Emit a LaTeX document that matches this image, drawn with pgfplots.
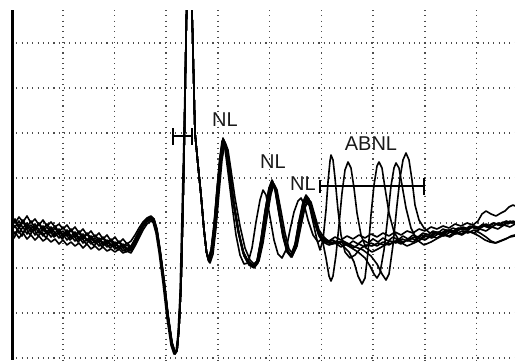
\documentclass[border=0pt]{standalone}
\usepackage{pgfplots}
\pgfplotsset{compat=1.18}
\usepackage{fontspec}
\setmainfont{Liberation Sans}
\begin{document}
\begin{tikzpicture}
\begin{axis}[
  scale only axis, width=504pt, height=350pt,
  xmin=11, xmax=515, ymin=10, ymax=360, y dir=reverse,
  axis line style={draw=none}, tick style={draw=none},
  xtick={63,114.5,166,218,269.5,321.5,373,425,476.5},
  ytick={43,88,133,178,223,268,313,358},
  xticklabels={}, yticklabels={},
  grid=major,
  major grid style={black!70, line width=1.1pt, dash pattern=on 1.1pt off 4.2pt},
  no markers,
  every axis plot post/.append style={black, line width=1.6pt, line join=round, mark=none, solid},
]
% trace 1 (normal)
\addplot coordinates {(11,226)(15,221)(19,228)(23,222)(27,229)(31,225)(35,230)(39,224)(43,231)(47,227)(51,233)(55,228)(59,234)(63,231)(67,236)(71,230)(75,237)(79,233)(83,239)(87,234)(91,240)(95,238)(99,242)(103,238)(107,244)(111,241)(115,246)(119,242)(123,248)(127,245)(131,248)(135,241)(139,232)(143,225)(147,220)(151,217)(154,219)(157,230)(160,250)(164,280)(168,315)(172,343)(175,353)(177,350)(179,328)(181,285)(183,205)(184.5,130)(186,40)(187.5,-30)(189.5,-50)(191,-20)(192.5,30)(195,133)(198,165)(201,195)(204,230)(206.5,252)
(208.5,260)(211,253)(214,228)(217,192)(220,158)(223,139)(226,148)(229,170)(233,200)(238,230)(243,252)(248,262)(253,266)(257,262)(261,240)(265,212)(269,188)(272,180)(275,188)(279,212)(283,235)(287,250)(291,255)(295,245)(299,222)(303,203)(306,196)(309,200)(313,215)(318,232)(323,240)
(328,242)(333,240)(338,244)(343,241)(348,245)(353,241)(358,244)(363,240)(368,243)(373,239)(378,242)(383,238)(388,241)(393,237)(398,240)(403,236)(408,239)(413,235)(418,237)(423,233)(428,235)(433,231)(438,233)(443,229)(448,231)(453,228)(458,230)(463,227)(468,229)(473,226)(478,228)(483,224)(488,226)(493,223)(498,225)(503,222)(508,224)(513,221)(515,222)};
% trace 2 (ABNL peak 348)
\addplot coordinates {(11,232)(14,238)(18,230)(22,236)(26,228)(30,235)(34,229)(38,236)(42,232)(46,238)(50,231)(54,237)(58,233)(62,239)(66,234)(70,240)(74,236)(78,242)(82,238)(86,244)(90,240)(94,246)(98,241)(102,247)(106,243)(110,248)(114,245)(118,250)(122,246)(126,252)(130,250)(134,243)(138,236)(142,228)(146,222)(150,219)(153,222)(156,233)(159,252)(163,283)(167,318)(171,345)(174,354)(176,352)(178,334)(180,295)(182,215)(184,135)(186,40)(187.5,-30)(189.5,-50)(191,-20)(192.5,30)(195,133)(198,165)(201,195)(204,230)(206.5,252)
(209,262)(212,250)(215,222)(218,188)(221,157)(224,141)(227,150)(230,172)(234,203)(239,233)(244,254)(249,264)(254,267)(258,262)(262,243)(266,216)(270,192)(273,183)(276,190)(280,214)(284,236)(288,251)(292,256)(296,246)(300,224)(304,205)(307,198)(310,203)(314,218)(319,234)(323,243)
(326,258)(329,276)(331,281)(333,276)(336,255)(339,225)(342,193)(345,170)(348,162)(351,168)(354,188)(357,213)(361,235)(366,248)(372,252)(378,249)(385,245)(392,243)(398,240)(404,242)(410,238)(416,240)(422,235)(428,237)(434,233)(440,234)(446,230)(452,232)(458,228)(464,230)(470,226)(476,229)(482,225)(488,227)(494,223)(500,225)(506,221)(512,223)(515,222)};
% trace 3 (normal, wiggly end)
\addplot coordinates {(11,218)(15,223)(19,217)(23,222)(27,216)(31,223)(35,219)(39,225)(43,220)(47,226)(51,222)(55,227)(59,224)(63,229)(67,225)(71,231)(75,227)(79,233)(83,229)(87,235)(91,231)(95,237)(99,233)(103,239)(107,235)(111,241)(115,237)(119,243)(123,239)(127,244)(131,241)(135,235)(139,228)(143,222)(147,218)(151,216)(154,219)(157,229)(160,249)(164,279)(168,314)(172,342)(175,352)(177,350)(179,328)(181,285)(183,205)(184.5,130)(186,40)(187.5,-30)(189.5,-50)(191,-20)(192.5,30)(195,133)(198,165)(201,195)(204,230)(206.5,252)
(208,259)(211,250)(214,224)(217,189)(220,157)(222,141)(225,149)(228,172)(232,205)(236,235)(240,255)(244,264)(248,263)(252,248)(256,222)(260,200)(263,190)(266,195)(270,217)(274,240)(278,254)(282,258)(286,250)(290,230)(294,212)(298,201)(301,198)(304,204)(308,220)(313,235)(318,242)(323,238)
(329,241)(335,237)(341,240)(347,236)(353,239)(359,235)(365,238)(371,234)(377,237)(383,233)(389,236)(395,232)(401,235)(407,231)(413,233)(419,229)(425,231)(431,227)(437,229)(443,226)(449,228)(455,224)(461,226)(467,223)(473,225)(478,221)(482,214)(486,211)(491,214)(496,216)(501,213)(505,211)(509,207)(513,205)(515,206)};
% trace 4 (ABNL peak 379)
\addplot coordinates {(11,236)(15,232)(19,238)(23,233)(27,239)(31,235)(35,240)(39,236)(43,241)(47,238)(51,242)(55,239)(59,244)(63,240)(67,245)(71,242)(75,246)(79,243)(83,248)(87,244)(91,249)(95,246)(99,250)(103,247)(107,251)(111,249)(115,252)(119,249)(123,253)(127,251)(131,253)(135,246)(139,238)(143,230)(147,224)(151,221)(154,223)(157,234)(160,253)(164,283)(168,318)(172,345)(175,354)(177,351)(179,328)(181,285)(183,205)(184.5,130)(186,40)(187.5,-30)(189.5,-50)(191,-20)(192.5,30)(195,133)(198,165)(201,195)(204,230)(206.5,252)
(210,263)(213,254)(216,228)(219,193)(222,160)(225,142)(228,150)(231,170)(235,198)(240,226)(245,248)(250,260)(255,265)(259,261)(263,243)(267,217)(271,194)(274,184)(277,190)(281,211)(285,233)(289,249)(293,254)(297,246)(301,226)(305,207)(308,199)(311,202)(315,216)(319,230)(323,236)
(330,243)(337,241)(343,246)(349,252)(354,262)(358,276)(362,284)(365,278)(368,252)(371,215)(374,185)(377,166)(379,162)(382,168)(385,188)(389,213)(394,232)(400,242)(407,246)(414,243)(420,240)(426,236)(432,238)(438,234)(444,236)(450,232)(456,234)(462,231)(468,233)(474,230)(480,233)(486,237)(491,241)(496,243)(501,241)(506,239)(511,236)(515,235)};
% trace 5 (ABNL peak 331)
\addplot coordinates {(11,222)(15,227)(19,221)(23,228)(27,223)(31,229)(35,224)(39,230)(43,226)(47,232)(51,227)(55,233)(59,229)(63,235)(67,230)(71,236)(75,232)(79,238)(83,234)(87,240)(91,236)(95,241)(99,238)(103,243)(107,240)(111,245)(115,242)(119,247)(123,244)(127,249)(131,246)(135,239)(139,231)(143,224)(147,219)(151,217)(154,220)(157,231)(160,251)(164,281)(168,316)(172,344)(175,353)(177,350)(179,328)(181,285)(183,205)(184.5,130)(186,40)(187.5,-30)(189.5,-50)(191,-20)(192.5,30)(195,133)(198,165)(201,195)(204,230)(206.5,252)
(208.5,261)(211,254)(214,229)(217,194)(220,160)(223,141)(226,150)(229,171)(233,201)(238,231)(243,253)(248,263)(253,266)(257,261)(261,239)(265,211)(269,189)(272,182)(275,190)(279,214)(283,237)(287,252)(291,257)(295,247)(299,225)(303,206)(306,199)(309,204)(313,222)(317,240)(320,250)
(323,240)(326,210)(328,182)(330,161)(331,155)(333,160)(335,178)(338,210)(341,235)(345,252)(350,258)(355,255)(360,249)(366,245)(372,246)(378,243)(384,245)(390,241)(396,243)(402,239)(408,241)(414,237)(420,239)(426,234)(432,236)(438,232)(444,234)(450,230)(456,232)(462,228)(468,230)(474,226)(480,228)(486,224)(492,227)(498,223)(504,225)(510,221)(515,223)};
% trace 6 (ABNL peak 396)
\addplot coordinates {(11,229)(15,234)(19,227)(23,233)(27,226)(31,232)(35,227)(39,233)(43,229)(47,234)(51,230)(55,236)(59,231)(63,237)(67,233)(71,238)(75,234)(79,240)(83,236)(87,241)(91,238)(95,243)(99,239)(103,245)(107,241)(111,246)(115,243)(119,248)(123,245)(127,250)(131,248)(135,241)(139,233)(143,226)(147,221)(151,218)(154,221)(157,232)(160,252)(164,282)(168,317)(172,344)(175,353)(177,350)(179,328)(181,285)(183,205)(184.5,130)(186,40)(187.5,-30)(189.5,-50)(191,-20)(192.5,30)(195,133)(198,165)(201,195)(204,230)(206.5,252)
(209,261)(212,252)(215,226)(218,191)(221,158)(223.5,140)(226.5,149)(229.5,171)(233.5,202)(238.5,232)(243.5,253)(248.5,263)(253.5,266)(257.5,261)(261.5,241)(265.5,213)(269.5,190)(272.5,181)(275.5,189)(279.5,213)(283.5,236)(287.5,251)(291.5,256)(295.5,245)(299.5,223)(303.5,204)(306.5,197)(309.5,201)(313.5,217)(318.5,234)(323,241)
(332,244)(341,242)(350,247)(358,252)(365,258)(370,266)(374,274)(377,278)(380,273)(384,250)(388,215)(391,186)(394,168)(396,163)(399,168)(402,185)(406,208)(411,228)(417,240)(424,245)(431,242)(438,238)(444,235)(450,237)(456,233)(462,235)(468,231)(474,233)(480,229)(486,231)(492,227)(498,229)(504,225)(510,227)(515,224)};
% trace 7 (ABNL peak 406)
\addplot coordinates {(11,225)(15,219)(19,226)(23,220)(27,227)(31,221)(35,228)(39,223)(43,229)(47,224)(51,230)(55,226)(59,232)(63,227)(67,233)(71,229)(75,235)(79,231)(83,237)(87,233)(91,238)(95,235)(99,240)(103,237)(107,242)(111,239)(115,244)(119,241)(123,246)(127,243)(131,247)(135,240)(139,232)(143,225)(147,220)(151,218)(154,220)(157,231)(160,251)(164,281)(168,316)(172,343)(175,352)(177,350)(179,328)(181,285)(183,205)(184.5,130)(186,40)(187.5,-30)(189.5,-50)(191,-20)(192.5,30)(195,133)(198,165)(201,195)(204,230)(206.5,252)
(208.5,260)(211,252)(214,226)(217,190)(220,158)(223,138)(226,147)(229,169)(233,199)(238,229)(243,251)(248,261)(253,265)(257,261)(261,241)(265,213)(269,189)(272,181)(275,189)(279,213)(283,236)(287,251)(291,255)(295,244)(299,221)(303,202)(306,195)(309,199)(313,214)(318,231)(323,239)
(333,243)(343,241)(353,246)(363,250)(371,256)(377,264)(382,274)(386,280)(389,274)(393,245)(397,205)(400,178)(403,160)(406,153)(409,160)(412,180)(415,205)(419,220)(424,228)(430,233)(436,232)(442,234)(448,230)(454,232)(460,228)(466,230)(472,227)(478,229)(484,226)(490,228)(496,224)(502,226)(508,222)(515,223)};
% trace 8 (normal, low end)
\addplot coordinates {(11,231)(15,226)(19,233)(23,227)(27,234)(31,228)(35,235)(39,230)(43,236)(47,231)(51,237)(55,233)(59,238)(63,234)(67,240)(71,236)(75,241)(79,237)(83,243)(87,239)(91,244)(95,241)(99,246)(103,242)(107,247)(111,244)(115,249)(119,246)(123,251)(127,248)(131,251)(135,244)(139,235)(143,227)(147,222)(151,219)(154,221)(157,232)(160,252)(164,282)(168,317)(172,345)(175,354)(177,351)(179,328)(181,285)(183,205)(184.5,130)(186,40)(187.5,-30)(189.5,-50)(191,-20)(192.5,30)(195,133)(198,165)(201,195)(204,230)(206.5,252)
(209,261)(212,251)(215,224)(218,190)(221,158)(224,140)(227,150)(230,173)(234,205)(239,235)(244,256)(249,265)(254,268)(258,263)(262,244)(266,217)(270,193)(273,184)(276,191)(280,215)(284,237)(288,252)(292,257)(296,248)(300,228)(304,210)(307,203)(310,206)(314,221)(319,236)(323,242)
(329,245)(335,243)(341,247)(347,244)(353,248)(359,244)(365,247)(371,243)(377,246)(383,242)(389,245)(395,241)(401,244)(407,240)(413,242)(419,238)(425,240)(431,236)(437,238)(443,234)(449,236)(455,232)(461,234)(467,231)(473,233)(479,236)(485,240)(490,242)(495,243)(500,241)(505,239)(510,237)(515,236)};
% markers
\draw[line width=1.8pt, black] (axis cs:173,136) -- (axis cs:192,136);
\draw[line width=1.8pt, black] (axis cs:173,128) -- (axis cs:173,145);
\draw[line width=1.8pt, black] (axis cs:192,128) -- (axis cs:192,145);
\draw[line width=1.8pt, black] (axis cs:320,186) -- (axis cs:424,186);
\draw[line width=1.8pt, black] (axis cs:320,180) -- (axis cs:320,193);
\draw[line width=1.8pt, black] (axis cs:424,178) -- (axis cs:424,195);
\node[font=\fontsize{20}{20}\selectfont, text=black!90, inner sep=0pt] at (axis cs:225,120) {NL};
\node[font=\fontsize{20}{20}\selectfont, text=black!90, inner sep=0pt] at (axis cs:273,162) {NL};
\node[font=\fontsize{20}{20}\selectfont, text=black!90, inner sep=0pt] at (axis cs:303,184) {NL};
\node[font=\fontsize{20}{20}\selectfont, text=black!90, inner sep=0pt] at (axis cs:371,144) {ABNL};
\draw[line width=3pt, black] (axis cs:12,10) -- (axis cs:12,360);
\end{axis}
\pgfresetboundingbox
\useasboundingbox ([xshift=-11pt,yshift=10pt]current axis.north west) rectangle (current axis.south east);
\end{tikzpicture}
\end{document}
